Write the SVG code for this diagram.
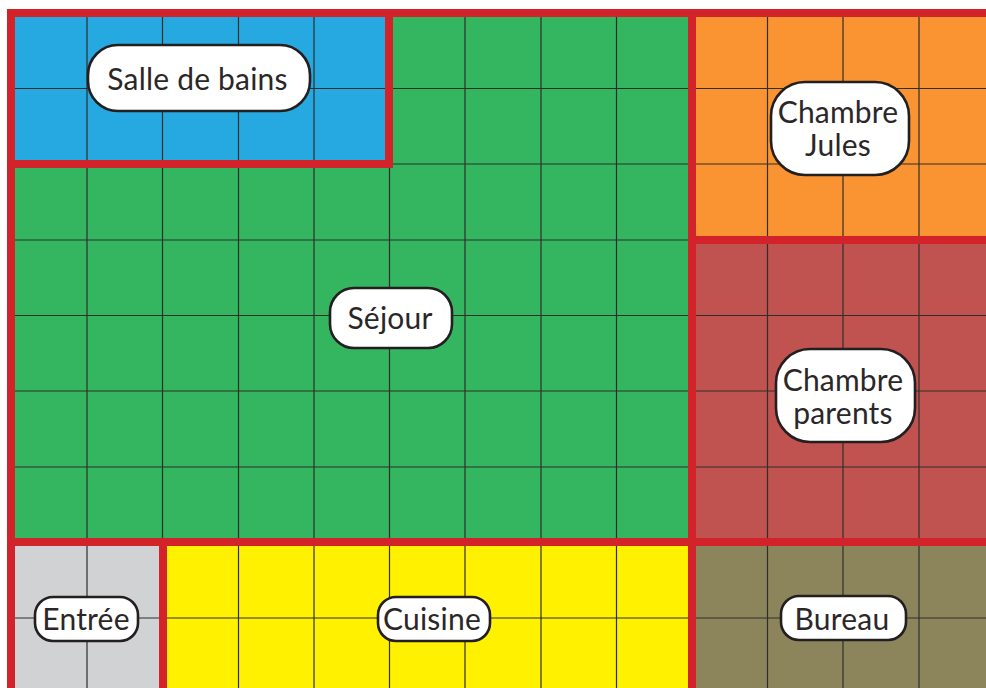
<svg xmlns="http://www.w3.org/2000/svg" width="986" height="688" viewBox="0 0 986 688">
<style>
.grid{stroke:#2f2f2a;stroke-width:1.2;fill:none}
.wall{stroke:#d2232a;stroke-width:8;fill:none}
.pill{fill:#fff;stroke:#231f20;stroke-width:2.6}
.lbl{font-family:"Lato","Liberation Sans",sans-serif;font-size:30px;font-weight:400;letter-spacing:.2px;fill:#2b2728;text-anchor:middle}
</style>
<rect width="986" height="688" fill="#fff"/>
<g id="rooms">
<rect x="11" y="13" width="681" height="675" fill="#34b560"/>
<rect x="11" y="13" width="378" height="151" fill="#25a9e0"/>
<rect x="692" y="13" width="294" height="227" fill="#fa9433"/>
<rect x="692" y="240" width="294" height="302" fill="#c05250"/>
<rect x="11" y="542" width="152" height="146" fill="#d0d2d3"/>
<rect x="163" y="542" width="529" height="146" fill="#fff100"/>
<rect x="692" y="542" width="294" height="146" fill="#8c845b"/>
</g>
<path class="grid" d="M87 13V688M162.500 13V688M238.500 13V688M314 13V688M389.500 13V688M465 13V688M541 13V688M616.500 13V688M692 13V688M767.500 13V688M843 13V688M919 13V688M11 88.500H986M11 164H986M11 240H986M11 315.500H986M11 391H986M11 467H986M11 542.500H986M11 618H986"/>
<path class="wall" d="M11 9V688M7 13H986M7 164H393M389 13V168M692 13V688M692 240H986M7 542H986M163 542V688"/>
<g id="salle-de-bains"><rect class="pill" x="88" y="45" width="222" height="66" rx="30"/><text class="lbl" x="197.500" y="90">Salle de bains</text></g>
<g id="chambre-jules"><rect class="pill" x="771" y="82" width="138" height="93" rx="34"/><text class="lbl" x="838" y="123">Chambre</text><text class="lbl" x="838" y="156">Jules</text></g>
<g id="sejour"><rect class="pill" x="330" y="288" width="122" height="60" rx="24"/><text class="lbl" x="390" y="329">Séjour</text></g>
<g id="chambre-parents"><rect class="pill" x="776" y="349" width="139" height="93" rx="34"/><text class="lbl" x="843" y="391">Chambre</text><text class="lbl" x="843" y="424">parents</text></g>
<g id="entree"><rect class="pill" x="35" y="597" width="103" height="44" rx="18"/><text class="lbl" x="86" y="630">Entrée</text></g>
<g id="cuisine"><rect class="pill" x="378" y="597" width="112" height="44" rx="18"/><text class="lbl" x="432" y="630">Cuisine</text></g>
<g id="bureau"><rect class="pill" x="781" y="596" width="125" height="44" rx="18"/><text class="lbl" x="842" y="630">Bureau</text></g>
</svg>
